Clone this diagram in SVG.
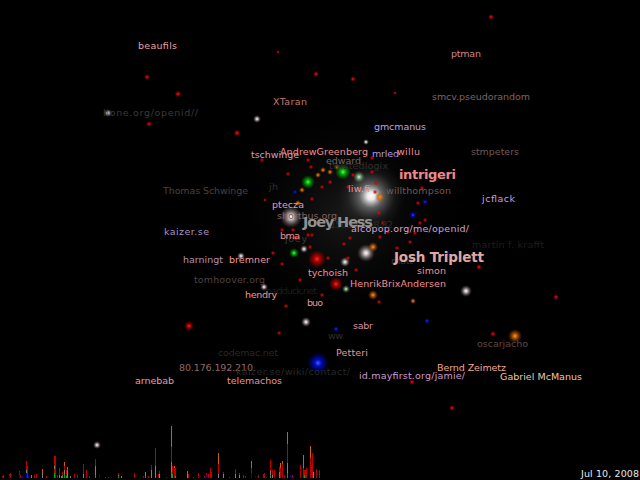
<svg xmlns="http://www.w3.org/2000/svg" width="640" height="480" viewBox="0 0 640 480">
<defs>
<radialGradient id="gW"><stop offset="0" stop-color="#ffffff" stop-opacity="1"/><stop offset="0.25" stop-color="#f0e8e8" stop-opacity="0.8"/><stop offset="1" stop-color="#806060" stop-opacity="0"/></radialGradient>
<radialGradient id="gBig"><stop offset="0" stop-color="#ffffff" stop-opacity="1"/><stop offset="0.12" stop-color="#ffffff" stop-opacity="0.9"/><stop offset="0.35" stop-color="#d8d8d8" stop-opacity="0.4"/><stop offset="0.7" stop-color="#909090" stop-opacity="0.1"/><stop offset="1" stop-color="#606060" stop-opacity="0"/></radialGradient>
<radialGradient id="gHalo"><stop offset="0" stop-color="#707070" stop-opacity="0.22"/><stop offset="0.5" stop-color="#404040" stop-opacity="0.1"/><stop offset="1" stop-color="#000000" stop-opacity="0"/></radialGradient>
<radialGradient id="gR"><stop offset="0" stop-color="#ff3030" stop-opacity="1"/><stop offset="0.3" stop-color="#dd0000" stop-opacity="0.8"/><stop offset="1" stop-color="#aa0000" stop-opacity="0"/></radialGradient>
<radialGradient id="gG"><stop offset="0" stop-color="#60ff60" stop-opacity="1"/><stop offset="0.3" stop-color="#00dd00" stop-opacity="0.8"/><stop offset="1" stop-color="#008800" stop-opacity="0"/></radialGradient>
<radialGradient id="gPG"><stop offset="0" stop-color="#e0ffe0" stop-opacity="1"/><stop offset="0.3" stop-color="#a0e0a0" stop-opacity="0.7"/><stop offset="1" stop-color="#608060" stop-opacity="0"/></radialGradient>
<radialGradient id="gB"><stop offset="0" stop-color="#4060ff" stop-opacity="1"/><stop offset="0.3" stop-color="#0010ee" stop-opacity="0.8"/><stop offset="1" stop-color="#0000aa" stop-opacity="0"/></radialGradient>
<radialGradient id="gO"><stop offset="0" stop-color="#ffa040" stop-opacity="1"/><stop offset="0.3" stop-color="#e07000" stop-opacity="0.8"/><stop offset="1" stop-color="#a04000" stop-opacity="0"/></radialGradient>
</defs>
<style>
text{font-family:"DejaVu Sans","Liberation Sans",sans-serif;font-size:9.5px}
.b{font-weight:bold}
.r{fill:url(#gR)}.g{fill:url(#gG)}.pg{fill:url(#gPG)}.bl{fill:url(#gB)}.o{fill:url(#gO)}.w{fill:url(#gW)}
.s{r:2.4px}
</style>
<rect x="0" y="0" width="640" height="480" fill="#000"/>
<g id="glows">
<circle cx="345" cy="215" r="120" fill="url(#gHalo)"/>
<circle cx="371" cy="196" r="34" fill="url(#gBig)"/>
<circle cx="291" cy="217" r="11" class="w"/>
<circle cx="366" cy="253" r="9" class="w"/>
<circle cx="345" cy="262" r="5" class="w"/>
<circle cx="304" cy="249" r="4" class="w"/>
<circle cx="241" cy="256" r="4" class="w"/>
<circle cx="264" cy="287" r="4" class="w"/>
<circle cx="306" cy="322" r="5" class="w"/>
<circle cx="466" cy="291" r="6" class="w"/>
<circle cx="257" cy="119" r="4" class="w"/>
<circle cx="108" cy="113" r="4" class="w"/>
<circle cx="97" cy="445" r="4" class="w"/>
<circle cx="366" cy="142" r="3" class="w"/>
<circle cx="343" cy="172" r="8" class="g"/>
<circle cx="308" cy="182" r="7" class="g"/>
<circle cx="294" cy="253" r="5" class="g"/>
<circle cx="359" cy="177" r="6" class="pg"/>
<circle cx="346" cy="289" r="4" class="pg"/>
<circle cx="317" cy="259" r="9" class="r"/>
<circle cx="336" cy="284" r="7" class="r"/>
<circle cx="189" cy="326" r="5" class="r"/>
<circle cx="318" cy="363" r="11" class="bl"/>
<circle cx="427" cy="321" r="3" class="bl"/>
<circle cx="336" cy="329" r="3" class="bl"/>
<circle cx="447" cy="254" r="3" class="bl"/>
<circle cx="425" cy="202" r="3" class="bl"/>
<circle cx="413" cy="215" r="4" class="bl"/>
<circle cx="295" cy="192" r="2.5" class="bl"/>
<circle cx="515" cy="336" r="7" class="o"/>
<circle cx="373" cy="295" r="5" class="o"/>
<circle cx="373" cy="247" r="5" class="o"/>
<circle cx="380" cy="197" r="5" class="o"/>
<circle cx="413" cy="301" r="3" class="o"/>
<circle cx="318" cy="175" r="3" class="o"/>
<circle cx="323" cy="170" r="3" class="o"/>
<circle cx="330" cy="172" r="3" class="o"/>
<circle cx="302" cy="190" r="3" class="o"/>
<circle cx="298" cy="203" r="3" class="o"/>
<circle cx="337" cy="167" r="3" class="o"/>
<circle cx="147" cy="77" r="3" class="r"/>
<circle cx="178" cy="94" r="3.5" class="r"/>
<circle cx="316" cy="74" r="3" class="r"/>
<circle cx="149" cy="124" r="3" class="r"/>
<circle cx="237" cy="133" r="3.5" class="r"/>
<circle cx="278" cy="52" r="2" class="r"/>
<circle cx="353" cy="79" r="3" class="r"/>
<circle cx="491" cy="17" r="3" class="r"/>
<circle cx="395" cy="93" r="2" class="r"/>
<circle cx="556" cy="297" r="3" class="r"/>
<circle cx="479" cy="267" r="3" class="r"/>
<circle cx="493" cy="334" r="3" class="r"/>
<circle cx="412" cy="382" r="3" class="r"/>
<circle cx="452" cy="408" r="3" class="r"/>
<circle cx="279" cy="333" r="2.4" class="r"/>
<circle cx="286" cy="306" r="2.4" class="r"/>
<circle cx="282" cy="264" r="2.4" class="r"/>
<circle cx="312" cy="235" r="2.4" class="r"/>
<circle cx="344" cy="244" r="2.4" class="r"/>
<circle cx="379" cy="302" r="2.4" class="r"/>
<circle cx="288" cy="174" r="2.4" class="r"/>
<circle cx="311" cy="167" r="2.4" class="r"/>
<circle cx="353" cy="175" r="2.4" class="r"/>
<circle cx="376" cy="183" r="2.4" class="r"/>
<circle cx="375" cy="192" r="2.4" class="r"/>
<circle cx="379" cy="213" r="2.4" class="r"/>
<circle cx="383" cy="223" r="2.4" class="r"/>
<circle cx="380" cy="237" r="2.4" class="r"/>
<circle cx="293" cy="230" r="2.4" class="r"/>
<circle cx="282" cy="230" r="2.4" class="r"/>
<circle cx="295" cy="238" r="2.4" class="r"/>
<circle cx="310" cy="247" r="2.4" class="r"/>
<circle cx="273" cy="253" r="2.4" class="r"/>
<circle cx="308" cy="235" r="2.4" class="r"/>
<circle cx="328" cy="258" r="2.4" class="r"/>
<circle cx="348" cy="258" r="2.4" class="r"/>
<circle cx="350" cy="238" r="2.4" class="r"/>
<circle cx="330" cy="182" r="2.4" class="r"/>
<circle cx="348" cy="187" r="2.4" class="r"/>
<circle cx="372" cy="172" r="2.4" class="r"/>
<circle cx="372" cy="158" r="2.4" class="r"/>
<circle cx="308" cy="160" r="2.4" class="r"/>
<circle cx="322" cy="187" r="2.4" class="r"/>
<circle cx="312" cy="199" r="2.4" class="r"/>
<circle cx="422" cy="188" r="2.4" class="r"/>
<circle cx="418" cy="203" r="2.4" class="r"/>
<circle cx="420" cy="223" r="2.4" class="r"/>
<circle cx="425" cy="220" r="2.4" class="r"/>
<circle cx="388" cy="232" r="2.4" class="r"/>
<circle cx="397" cy="248" r="2.4" class="r"/>
<circle cx="410" cy="242" r="2.4" class="r"/>
<circle cx="415" cy="233" r="2.4" class="r"/>
<circle cx="356" cy="270" r="2.4" class="r"/>
<circle cx="300" cy="280" r="2.4" class="r"/>
<circle cx="322" cy="295" r="2.4" class="r"/>
<circle cx="265" cy="200" r="2" class="r"/>
<circle cx="262" cy="160" r="2.4" class="r"/>
</g>
<g id="histogram">
<rect x="2" y="476" width="1" height="2" fill="#c00000"/>
<rect x="3" y="475" width="1" height="3" fill="#c00000"/>
<rect x="9" y="476" width="1" height="2" fill="#0000c0"/><rect x="9" y="474" width="1" height="2" fill="#c00000"/>
<rect x="10" y="473" width="1" height="5" fill="#c00000"/>
<rect x="19" y="475" width="1" height="3" fill="#0000c0"/><rect x="19" y="471" width="1" height="4" fill="#c00000"/>
<rect x="20" y="475" width="1" height="3" fill="#c00000"/>
<rect x="22" y="476" width="1" height="2" fill="#0000c0"/>
<rect x="26" y="473" width="1" height="5" fill="#0000c0"/><rect x="26" y="470" width="1" height="3" fill="#808080"/><rect x="26" y="461" width="1" height="9" fill="#c00000"/>
<rect x="27" y="466" width="1" height="12" fill="#c00000"/>
<rect x="28" y="476" width="1" height="2" fill="#0000c0"/>
<rect x="31" y="475" width="1" height="3" fill="#808080"/>
<rect x="34" y="475" width="1" height="3" fill="#c00000"/>
<rect x="36" y="474" width="1" height="4" fill="#c00000"/>
<rect x="42" y="473" width="1" height="5" fill="#808080"/><rect x="42" y="469" width="1" height="4" fill="#d06000"/>
<rect x="46" y="476" width="1" height="2" fill="#c00000"/>
<rect x="54" y="473" width="1" height="5" fill="#00b000"/><rect x="54" y="469" width="1" height="4" fill="#c00000"/><rect x="54" y="466" width="1" height="3" fill="#808080"/><rect x="54" y="456" width="1" height="10" fill="#c00000"/>
<rect x="55" y="456" width="1" height="22" fill="#c00000"/>
<rect x="57" y="475" width="1" height="3" fill="#c00000"/>
<rect x="59" y="475" width="1" height="3" fill="#808080"/><rect x="59" y="468" width="1" height="7" fill="#c00000"/>
<rect x="61" y="476" width="1" height="2" fill="#808080"/>
<rect x="62" y="475" width="1" height="3" fill="#00b000"/><rect x="62" y="472" width="1" height="3" fill="#c00000"/>
<rect x="64" y="474" width="1" height="4" fill="#00b000"/><rect x="64" y="470" width="1" height="4" fill="#808080"/><rect x="64" y="466" width="1" height="4" fill="#c00000"/><rect x="64" y="462" width="1" height="4" fill="#d06000"/>
<rect x="66" y="476" width="1" height="2" fill="#00b000"/><rect x="66" y="470" width="1" height="6" fill="#c00000"/>
<rect x="67" y="473" width="1" height="5" fill="#808080"/><rect x="67" y="467" width="1" height="6" fill="#d06000"/>
<rect x="70" y="476" width="1" height="2" fill="#808080"/>
<rect x="74" y="474" width="1" height="4" fill="#c00000"/>
<rect x="77" y="475" width="1" height="3" fill="#c00000"/>
<rect x="83" y="474" width="1" height="4" fill="#808080"/><rect x="83" y="464" width="1" height="10" fill="#c00000"/>
<rect x="86" y="470" width="1" height="8" fill="#c00000"/>
<rect x="89" y="476" width="1" height="2" fill="#c00000"/>
<rect x="95" y="475" width="1" height="3" fill="#00b000"/><rect x="95" y="466" width="1" height="9" fill="#808080"/><rect x="95" y="459" width="1" height="7" fill="#c00000"/>
<rect x="99" y="475" width="1" height="3" fill="#0000c0"/>
<rect x="105" y="477" width="1" height="1" fill="#c00000"/>
<rect x="108" y="477" width="1" height="1" fill="#c00000"/>
<rect x="118" y="475" width="1" height="3" fill="#00b000"/><rect x="118" y="473" width="1" height="2" fill="#c00000"/>
<rect x="121" y="476" width="1" height="2" fill="#808080"/>
<rect x="134" y="473" width="1" height="5" fill="#c00000"/>
<rect x="143" y="476" width="1" height="2" fill="#c00000"/>
<rect x="145" y="476" width="1" height="2" fill="#00b000"/><rect x="145" y="472" width="1" height="4" fill="#808080"/>
<rect x="148" y="476" width="1" height="2" fill="#c00000"/>
<rect x="151" y="470" width="1" height="8" fill="#808080"/><rect x="151" y="465" width="1" height="5" fill="#c00000"/>
<rect x="155" y="466" width="1" height="12" fill="#808080"/><rect x="155" y="448" width="1" height="18" fill="#c00000"/>
<rect x="158" y="474" width="1" height="4" fill="#c00000"/>
<rect x="159" y="474" width="1" height="4" fill="#808080"/><rect x="159" y="471" width="1" height="3" fill="#c00000"/>
<rect x="166" y="477" width="1" height="1" fill="#c00000"/>
<rect x="171" y="472" width="1" height="6" fill="#00b000"/><rect x="171" y="462" width="1" height="10" fill="#808080"/><rect x="171" y="447" width="1" height="15" fill="#c00000"/><rect x="171" y="426" width="1" height="21" fill="#d06000"/>
<rect x="172" y="474" width="1" height="4" fill="#00b000"/><rect x="172" y="466" width="1" height="8" fill="#c00000"/>
<rect x="174" y="468" width="1" height="10" fill="#c00000"/><rect x="174" y="466" width="1" height="2" fill="#d06000"/>
<rect x="175" y="476" width="1" height="2" fill="#00b000"/><rect x="175" y="468" width="1" height="8" fill="#c00000"/>
<rect x="187" y="474" width="1" height="4" fill="#808080"/><rect x="187" y="471" width="1" height="3" fill="#d06000"/>
<rect x="188" y="474" width="1" height="4" fill="#c00000"/>
<rect x="193" y="477" width="1" height="1" fill="#c00000"/>
<rect x="198" y="473" width="1" height="5" fill="#c00000"/>
<rect x="204" y="476" width="1" height="2" fill="#c00000"/>
<rect x="206" y="475" width="1" height="3" fill="#0000c0"/><rect x="206" y="473" width="1" height="2" fill="#c00000"/>
<rect x="208" y="474" width="1" height="4" fill="#c00000"/>
<rect x="210" y="468" width="1" height="10" fill="#c00000"/>
<rect x="211" y="472" width="1" height="6" fill="#c00000"/>
<rect x="218" y="474" width="1" height="4" fill="#808080"/><rect x="218" y="464" width="1" height="10" fill="#c00000"/><rect x="218" y="453" width="1" height="11" fill="#d06000"/>
<rect x="223" y="474" width="1" height="4" fill="#808080"/><rect x="223" y="472" width="1" height="2" fill="#c00000"/>
<rect x="229" y="477" width="1" height="1" fill="#c00000"/>
<rect x="235" y="474" width="1" height="4" fill="#808080"/><rect x="235" y="469" width="1" height="5" fill="#c00000"/>
<rect x="239" y="475" width="1" height="3" fill="#808080"/><rect x="239" y="473" width="1" height="2" fill="#c00000"/>
<rect x="243" y="475" width="1" height="3" fill="#c00000"/>
<rect x="245" y="476" width="1" height="2" fill="#c00000"/>
<rect x="251" y="473" width="1" height="5" fill="#0000c0"/><rect x="251" y="468" width="1" height="5" fill="#c00000"/><rect x="251" y="461" width="1" height="7" fill="#d06000"/>
<rect x="255" y="476" width="1" height="2" fill="#0000c0"/>
<rect x="258" y="475" width="1" height="3" fill="#c00000"/>
<rect x="263" y="474" width="1" height="4" fill="#c00000"/>
<rect x="264" y="473" width="1" height="5" fill="#c00000"/>
<rect x="266" y="477" width="1" height="1" fill="#c00000"/>
<rect x="270" y="475" width="1" height="3" fill="#00b000"/><rect x="270" y="471" width="1" height="4" fill="#808080"/><rect x="270" y="460" width="1" height="11" fill="#c00000"/>
<rect x="272" y="475" width="1" height="3" fill="#808080"/><rect x="272" y="470" width="1" height="5" fill="#c00000"/>
<rect x="274" y="470" width="1" height="8" fill="#c00000"/>
<rect x="279" y="472" width="1" height="6" fill="#d06000"/><rect x="279" y="467" width="1" height="5" fill="#c00000"/>
<rect x="280" y="468" width="1" height="10" fill="#c00000"/><rect x="280" y="463" width="1" height="5" fill="#d06000"/>
<rect x="282" y="464" width="1" height="14" fill="#c00000"/><rect x="282" y="461" width="1" height="3" fill="#d06000"/>
<rect x="284" y="475" width="1" height="3" fill="#c00000"/>
<rect x="287" y="473" width="1" height="5" fill="#00b000"/><rect x="287" y="463" width="1" height="10" fill="#808080"/><rect x="287" y="444" width="1" height="19" fill="#c00000"/><rect x="287" y="432" width="1" height="12" fill="#d06000"/>
<rect x="290" y="475" width="1" height="3" fill="#0000c0"/>
<rect x="292" y="475" width="1" height="3" fill="#c00000"/>
<rect x="300" y="465" width="1" height="13" fill="#c00000"/>
<rect x="303" y="468" width="1" height="10" fill="#c00000"/><rect x="303" y="455" width="1" height="13" fill="#d06000"/>
<rect x="304" y="475" width="1" height="3" fill="#00b000"/><rect x="304" y="470" width="1" height="5" fill="#c00000"/>
<rect x="305" y="470" width="1" height="8" fill="#c00000"/>
<rect x="306" y="468" width="1" height="10" fill="#c00000"/>
<rect x="310" y="458" width="1" height="20" fill="#c00000"/><rect x="310" y="446" width="1" height="12" fill="#d06000"/>
<rect x="311" y="475" width="1" height="3" fill="#0000c0"/><rect x="311" y="465" width="1" height="10" fill="#c00000"/>
<rect x="312" y="453" width="1" height="25" fill="#c00000"/>
<rect x="313" y="472" width="1" height="6" fill="#808080"/>
<rect x="316" y="469" width="1" height="9" fill="#c00000"/>
<rect x="319" y="470" width="1" height="8" fill="#c00000"/>
</g>
<g id="labels">
<text x="330" y="228" fill="#2c2c2c" textLength="63">150.203.18.82</text>
<text x="329" y="169" fill="#2e2e2e" textLength="59">twistedlogix</text>
<text x="263" y="294" fill="#1e1e1e" textLength="54">madduck.net</text>
<text x="285" y="242" fill="#3a3a3a" textLength="22">joey</text>
<text x="391" y="264" fill="#383030" textLength="22">matt</text>
<text x="138" y="49" fill="#e8a0a0" textLength="39">beaufils</text>
<text x="451" y="57" fill="#d08888" textLength="30">ptman</text>
<text x="273" y="105" fill="#c07878" textLength="34">XTaran</text>
<text x="103" y="116" fill="#3a3a3a" textLength="95">hone.org/openid//</text>
<text x="432" y="100" fill="#806060" textLength="98">smcv.pseudorandom</text>
<text x="374" y="130" fill="#b8a0f0" textLength="52">gmcmanus</text>
<text x="251" y="158" fill="#d0a0b8" textLength="48">tschwinge</text>
<text x="280" y="155" fill="#f09090" textLength="88">AndrewGreenberg</text>
<text x="372" y="157" fill="#a898e8" textLength="27">mrled</text>
<text x="397" y="155" fill="#f09090" textLength="23">willu</text>
<text x="471" y="155" fill="#705858" textLength="48">stmpeters</text>
<text x="326" y="164" fill="#706060" textLength="35">edward</text>
<text x="399" y="179" class="b" fill="#f08888" style="font-size:13px" textLength="57">intrigeri</text>
<text x="163" y="194" fill="#4a4040" textLength="85">Thomas Schwinge</text>
<text x="269" y="190" fill="#303030" textLength="9">jh</text>
<text x="348" y="192" fill="#f09090" textLength="22">liw.fi</text>
<text x="386" y="194" fill="#705858" textLength="65">willthompson</text>
<text x="482" y="202" fill="#d898d8" textLength="33">jcflack</text>
<text x="272" y="208" fill="#f098b0" textLength="32">ptecza</text>
<text x="277" y="219" fill="#806060" textLength="60">shortbus.org</text>
<text x="303" y="227" class="b" fill="#909090" style="font-size:14.5px" textLength="70">Joey Hess</text>
<text x="351" y="232" fill="#d8a0d0" textLength="118">alcopop.org/me/openid/</text>
<text x="164" y="235" fill="#a890c0" textLength="45">kaizer.se</text>
<text x="280" y="239" fill="#f09090" textLength="20">bma</text>
<text x="472" y="248" fill="#1e1e1e" textLength="72">martin f. krafft</text>
<text x="394" y="262" class="b" fill="#e0a8a0" style="font-size:13.5px" textLength="90">Josh Triplett</text>
<text x="183" y="263" fill="#b090b8" textLength="40">harningt</text>
<text x="229" y="263" fill="#f09898" textLength="41">bremner</text>
<text x="417" y="274" fill="#f09090" textLength="29">simon</text>
<text x="308" y="276" fill="#f09090" textLength="40">tychoish</text>
<text x="194" y="283" fill="#504040" textLength="71">tomhoover.org</text>
<text x="350" y="287" fill="#f09090" textLength="96">HenrikBrixAndersen</text>
<text x="245" y="298" fill="#f09890" textLength="32">hendry</text>
<text x="307" y="306" fill="#e098a8" textLength="16">buo</text>
<text x="353" y="329" fill="#d890a8" textLength="20">sabr</text>
<text x="328" y="339" fill="#303030" textLength="15">ww</text>
<text x="477" y="347" fill="#604848" textLength="51">oscarjacho</text>
<text x="218" y="356" fill="#282828" textLength="60">codemac.net</text>
<text x="336" y="356" fill="#f09090" textLength="32">Petteri</text>
<text x="179" y="371" fill="#906868" textLength="74">80.176.192.210</text>
<text x="437" y="371" fill="#f0a890" textLength="69">Bernd Zeimetz</text>
<text x="236" y="375" fill="#282828" textLength="114">kaizer.se/wiki/contact/</text>
<text x="359" y="379" fill="#d098d0" textLength="106">id.mayfirst.org/jamie/</text>
<text x="500" y="380" fill="#f0c8a0" textLength="82">Gabriel McManus</text>
<text x="135" y="384" fill="#f09898" textLength="39">arnebab</text>
<text x="227" y="384" fill="#f09090" textLength="55">telemachos</text>
<text x="581" y="477" fill="#e8e8e8" textLength="58">Jul 10, 2008</text>
</g>
</svg>
